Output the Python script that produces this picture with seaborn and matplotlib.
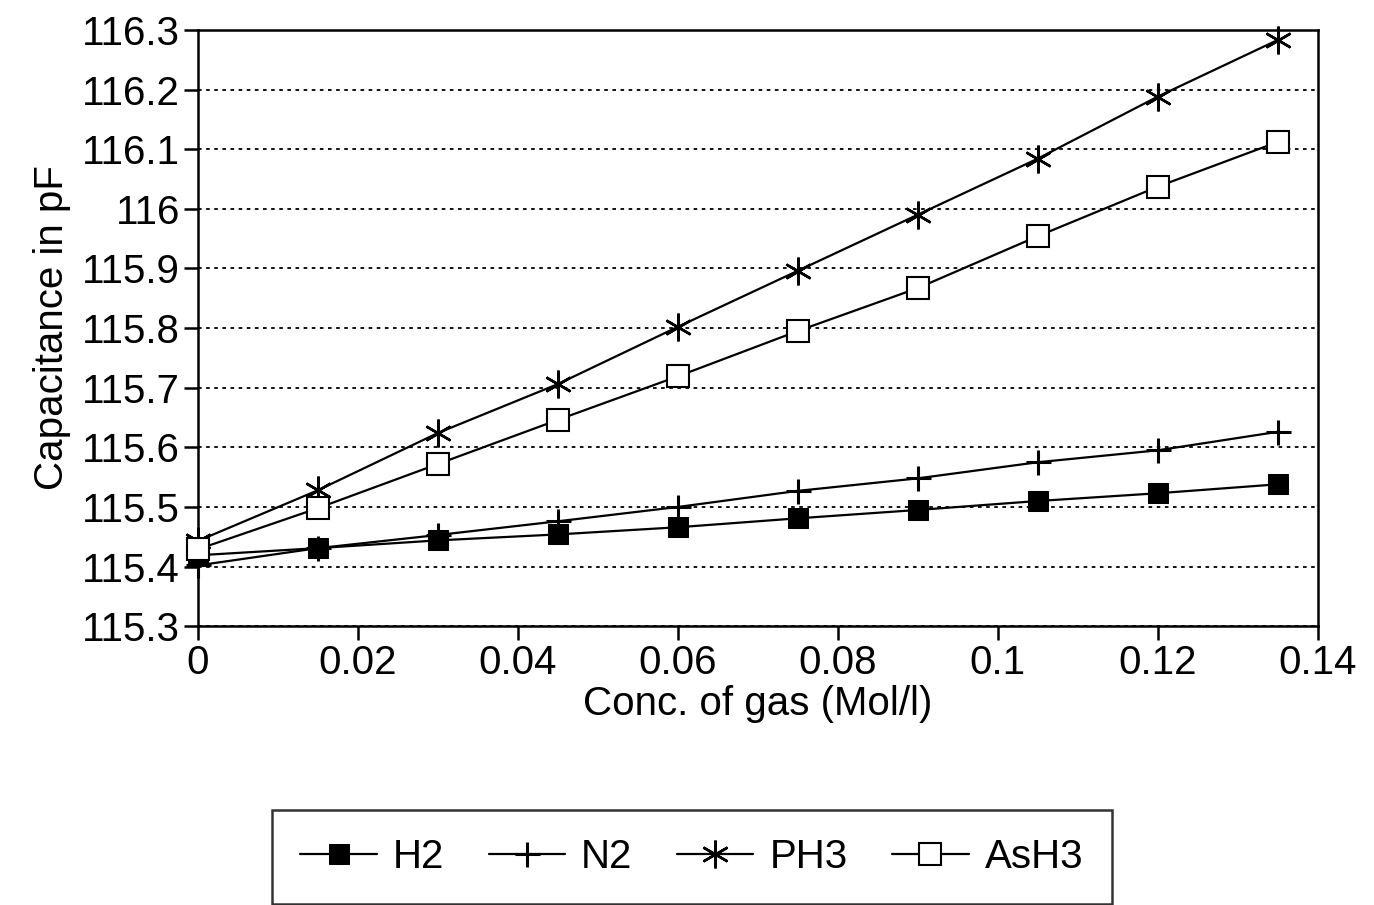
import pandas as pd
import matplotlib
matplotlib.use("Agg")
import matplotlib.pyplot as plt
from matplotlib.ticker import FuncFormatter
import seaborn as sns

# concentration of gas (Mol/l)
conc = [0, 0.015, 0.03, 0.045, 0.06, 0.075, 0.09, 0.105, 0.12, 0.135]

# capacitance readings in pF
h2 = [115.419, 115.431, 115.444, 115.454, 115.466, 115.481, 115.495, 115.510, 115.523, 115.538]
n2 = [115.402, 115.431, 115.453, 115.476, 115.500, 115.527, 115.548, 115.575, 115.595, 115.626]
ph3 = [115.443, 115.528, 115.624, 115.706, 115.802, 115.896, 115.990, 116.084, 116.188, 116.283]
ash3 = [115.429, 115.498, 115.572, 115.646, 115.719, 115.795, 115.867, 115.954, 116.037, 116.112]

gases = ['H2', 'N2', 'PH3', 'AsH3']
values = [h2, n2, ph3, ash3]

sns.set_theme(style="white")
plt.rcParams['font.family'] = ['Liberation Sans', 'DejaVu Sans']
plt.rcParams['text.color'] = 'black'

fig = plt.figure(figsize=(13.74, 9.05), dpi=100)
ax = fig.add_axes([0.144, 0.308, 0.815, 0.659])

# marker style per gas
styles = {
    'H2': dict(marker='s', markersize=15, markerfacecolor='black', markeredgecolor='black'),
    'N2': dict(marker='+', markersize=18, markeredgewidth=2.2, markeredgecolor='black'),
    'PH3': dict(marker=(6, 2, 0), markersize=20, markeredgewidth=1.8, markeredgecolor='black'),
    'AsH3': dict(marker='s', markersize=16, markerfacecolor='white', markeredgecolor='black',
                 markeredgewidth=1.5),
}

for gas, vals in zip(gases, values):
    df = pd.DataFrame({'conc': conc, 'cap': vals})
    sns.lineplot(data=df, x='conc', y='cap', ax=ax, color='black', linewidth=1.6,
                 label=gas, clip_on=False, zorder=3, **styles[gas])

ax.set_xlim(0, 0.14)
ax.set_ylim(115.3, 116.3)
ax.set_xticks([0, 0.02, 0.04, 0.06, 0.08, 0.1, 0.12, 0.14])
ax.set_yticks([115.3, 115.4, 115.5, 115.6, 115.7, 115.8, 115.9, 116, 116.1, 116.2, 116.3])
ax.xaxis.set_major_formatter(FuncFormatter(lambda v, p: '%g' % round(v, 3)))
ax.yaxis.set_major_formatter(FuncFormatter(lambda v, p: '%g' % round(v, 2)))

# dotted horizontal grid
ax.yaxis.grid(True, linestyle=(0, (2, 2.5)), color='black', linewidth=1.3)
ax.xaxis.grid(False)

for s in ax.spines.values():
    s.set_color('black')
    s.set_linewidth(1.8)

ax.tick_params(axis='both', direction='out', length=10, width=1.8, color='black',
               labelsize=29, labelcolor='black', bottom=True, left=True, pad=3)
ax.set_xlabel('Conc. of gas (Mol/l)', fontsize=29, color='black', labelpad=2)
ax.set_ylabel('Capacitance in pF', fontsize=29, color='black', labelpad=8)

# legend below the plot
handles, labels = ax.get_legend_handles_labels()
ax.get_legend().remove()
leg = fig.legend(handles, labels, loc='upper left', bbox_to_anchor=(0.198, 0.105), ncol=4,
                 fontsize=29, frameon=True, fancybox=False, edgecolor='black',
                 handlelength=1.9, columnspacing=1.1, borderpad=0.7, handletextpad=0.4,
                 borderaxespad=0, labelcolor='black')
leg.get_frame().set_linewidth(1.8)

plt.savefig('out.png', dpi=100)
